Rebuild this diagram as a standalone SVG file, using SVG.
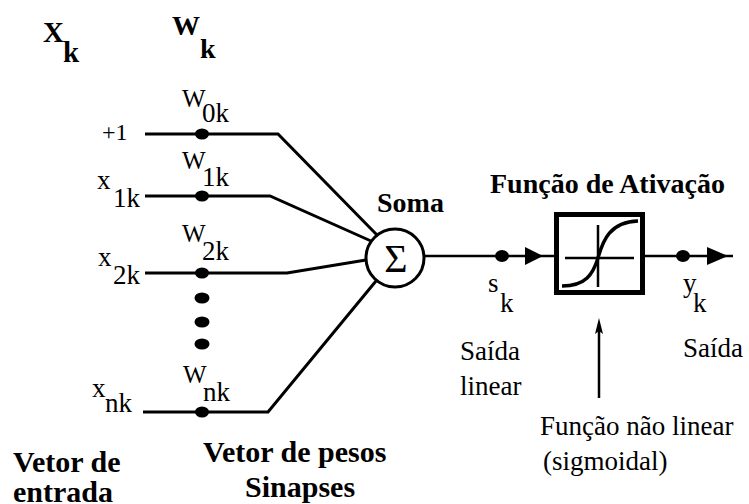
<svg xmlns="http://www.w3.org/2000/svg" width="749" height="504" viewBox="0 0 749 504" font-family="Liberation Serif">
  <style>
    text { font-family: 'Liberation Serif', serif; fill: #000; }
    .b { font-weight: bold; }
    .lbl { font-size: 27px; }
    .w { font-size: 25px; }
    .big { font-size: 30px; }
    .head { font-size: 28px; }
    .wire { fill: none; stroke: #000; stroke-width: 3; stroke-linejoin: miter; }
    .thin { fill: none; stroke: #000; stroke-width: 2.5; }
    .dot { fill: #000; }
  </style>
  <rect width="749" height="504" fill="#fff"/>

  <!-- column headings -->
  <g id="heading-x">
    <text class="b" font-size="29" x="43" y="42">X</text>
    <text class="b" font-size="29" x="63" y="62">k</text>
  </g>
  <g id="heading-w">
    <text class="b" font-size="28" x="172" y="35">W</text>
    <text class="b" font-size="28" x="200" y="58">k</text>
  </g>

  <!-- connectors: input lines into the summing junction and on to the output -->
  <g id="connectors">
    <polyline class="wire" points="145,134 278,134 377,235"/>
    <polyline class="wire" points="145,196 270,196 371,241"/>
    <polyline class="wire" points="145,273 287,273 366,260"/>
    <polyline class="wire" points="143,412 268,412 376,281"/>
    <line class="thin" x1="424" y1="256" x2="555" y2="256"/>
    <line class="thin" x1="645" y1="256" x2="733" y2="256"/>
    <polygon points="525,247 543,256 525,265"/>
    <polygon points="707,247 728,256 707,265"/>
    <line class="thin" x1="599" y1="398" x2="599" y2="326"/>
    <path d="M599,318 L595,334 L599,331 L603,334 Z"/>
  </g>

  <!-- inputs -->
  <g id="input-bias">
    <text font-size="24" x="102" y="140">+1</text>
  </g>
  <g id="input-x1">
    <text class="lbl" x="97" y="189">x</text>
    <text class="lbl" x="113" y="207">1k</text>
  </g>
  <g id="input-x2">
    <text class="lbl" x="98" y="266">x</text>
    <text class="lbl" x="113" y="284">2k</text>
  </g>
  <g id="input-xn">
    <text class="lbl" x="92" y="397">x</text>
    <text class="lbl" x="105" y="412">nk</text>
  </g>

  <!-- synaptic weights -->
  <g id="weight-w0">
    <ellipse class="dot" cx="202" cy="134" rx="7" ry="5.5"/>
    <text class="w" x="182" y="107">W</text>
    <text class="lbl" x="202" y="122">0k</text>
  </g>
  <g id="weight-w1">
    <ellipse class="dot" cx="202" cy="196" rx="7" ry="5.5"/>
    <text class="w" x="182" y="169">W</text>
    <text class="lbl" x="202" y="186">1k</text>
  </g>
  <g id="weight-w2">
    <ellipse class="dot" cx="202" cy="273" rx="7" ry="5.5"/>
    <text class="w" x="182" y="242">W</text>
    <text class="lbl" x="202" y="260">2k</text>
  </g>
  <g id="weight-ellipsis">
    <ellipse class="dot" cx="202" cy="298" rx="7.5" ry="5.5"/>
    <ellipse class="dot" cx="202" cy="322" rx="7.5" ry="5.5"/>
    <ellipse class="dot" cx="202" cy="344" rx="7.5" ry="5.5"/>
  </g>
  <g id="weight-wn">
    <ellipse class="dot" cx="202" cy="412" rx="7" ry="5.5"/>
    <text class="w" x="183" y="383">W</text>
    <text class="lbl" x="203" y="401">nk</text>
  </g>

  <!-- summing junction -->
  <g id="sum">
    <circle cx="395" cy="258" r="29" fill="#fff" stroke="#000" stroke-width="3"/>
    <text x="396" y="272" font-size="40" text-anchor="middle">&#931;</text>
    <text class="b head" x="377" y="212">Soma</text>
  </g>

  <!-- linear output s_k -->
  <g id="linear-output">
    <ellipse class="dot" cx="502" cy="256" rx="7" ry="6"/>
    <text class="lbl" x="488" y="292">s</text>
    <text class="lbl" x="500" y="312">k</text>
    <text class="lbl" x="460" y="360">Sa&#237;da</text>
    <text class="lbl" x="460" y="395">linear</text>
  </g>

  <!-- activation function block -->
  <g id="activation">
    <rect x="556.5" y="214.5" width="86" height="78" fill="#fff" stroke="#000" stroke-width="5"/>
    <line class="thin" x1="598" y1="225" x2="598" y2="287"/>
    <line class="thin" x1="565" y1="258" x2="634" y2="258"/>
    <path d="M562,286 C586,286 593,274 598,258 C603,240 610,222 638,221" fill="none" stroke="#000" stroke-width="3.5"/>
    <text class="b head" x="490" y="193">Fun&#231;&#227;o de Ativa&#231;&#227;o</text>
  </g>

  <!-- output y_k -->
  <g id="output">
    <ellipse class="dot" cx="683" cy="256" rx="7" ry="6"/>
    <text class="lbl" x="683" y="292">y</text>
    <text class="lbl" x="693" y="312">k</text>
    <text class="lbl" x="683" y="357">Sa&#237;da</text>
  </g>

  <!-- captions -->
  <g id="caption-nonlinear">
    <text class="lbl" x="540" y="435">Fun&#231;&#227;o n&#227;o linear</text>
    <text class="lbl" x="543" y="470">(sigmoidal)</text>
  </g>
  <g id="caption-input">
    <text class="b big" x="13" y="472">Vetor de</text>
    <text class="b big" x="13" y="502">entrada</text>
  </g>
  <g id="caption-weights">
    <text class="b big" x="203" y="462">Vetor de pesos</text>
    <text class="b big" x="245" y="497">Sinapses</text>
  </g>
</svg>
